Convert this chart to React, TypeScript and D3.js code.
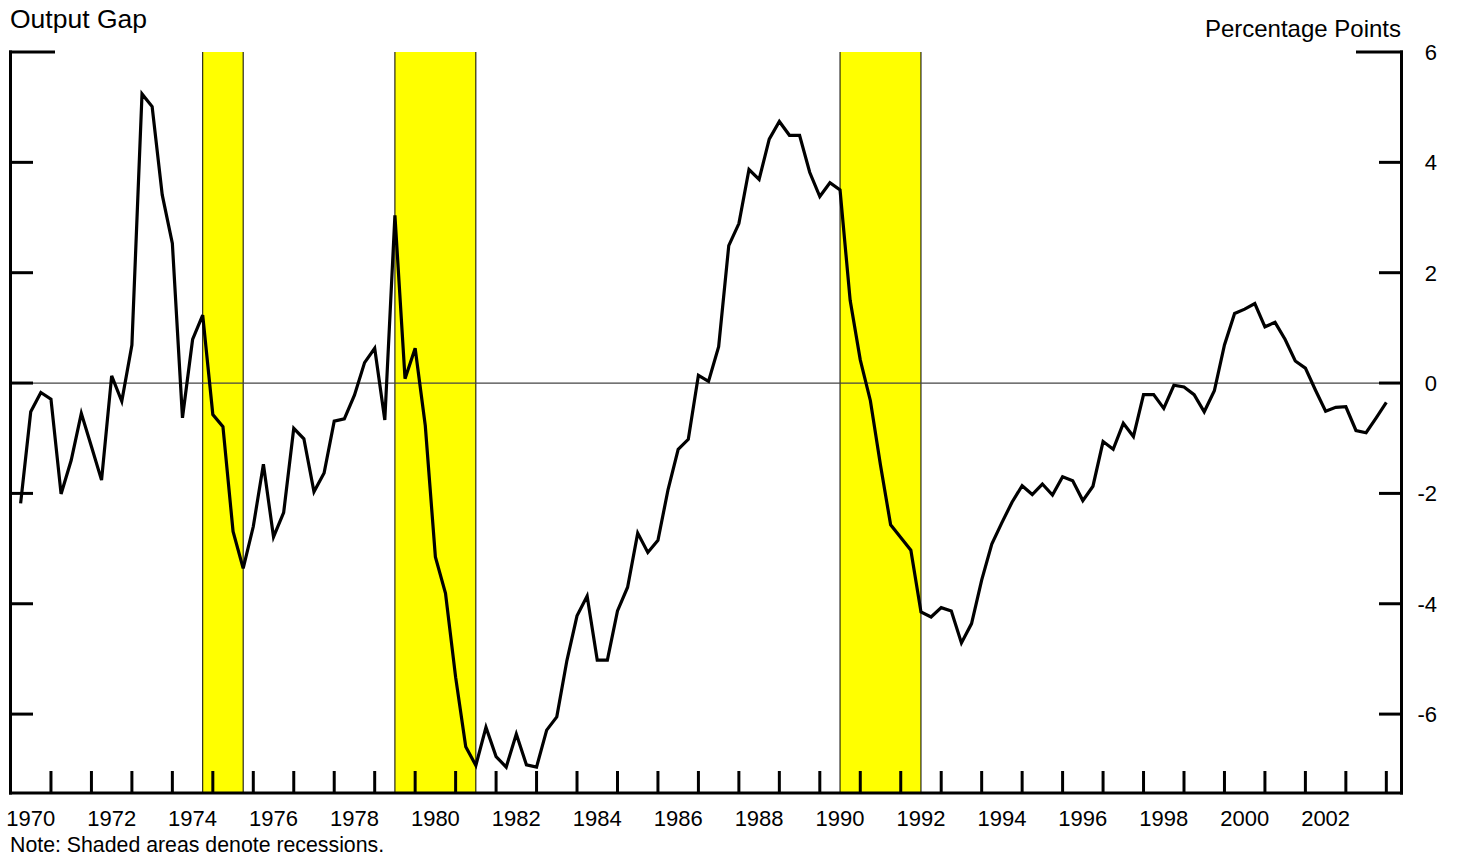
import React from "react";
import * as d3 from "d3";

const W = 1457;
const H = 859;

// Quarterly output gap, first value plotted at 1970.25 (quarter end), step 0.25 yr
const firstDate = 1970.25;
const outputGap: number[] = [
  -2.18, -0.52, -0.17, -0.29, -2.01, -1.40, -0.55, -1.15, -1.76, 0.13,
  -0.33, 0.69, 5.24, 5.01, 3.41, 2.53, -0.63, 0.79, 1.23, -0.57,
  -0.79, -2.69, -3.36, -2.60, -1.47, -2.79, -2.35, -0.82, -1.01, -1.97,
  -1.63, -0.69, -0.65, -0.22, 0.37, 0.63, -0.67, 3.04, 0.08, 0.63,
  -0.77, -3.15, -3.81, -5.33, -6.59, -6.93, -6.24, -6.77, -6.96, -6.36,
  -6.92, -6.96, -6.29, -6.05, -5.03, -4.22, -3.86, -5.02, -5.02, -4.13,
  -3.70, -2.72, -3.07, -2.85, -1.93, -1.20, -1.02, 0.14, 0.03, 0.66,
  2.49, 2.89, 3.87, 3.69, 4.42, 4.74, 4.49, 4.49, 3.82, 3.38,
  3.63, 3.50, 1.50, 0.42, -0.32, -1.49, -2.57, -2.80, -3.03, -4.15,
  -4.24, -4.07, -4.13, -4.71, -4.36, -3.57, -2.92, -2.53, -2.16, -1.86,
  -2.02, -1.83, -2.03, -1.70, -1.77, -2.13, -1.87, -1.06, -1.20, -0.73,
  -0.97, -0.21, -0.21, -0.46, -0.04, -0.07, -0.21, -0.52, -0.14, 0.69,
  1.26, 1.34, 1.44, 1.02, 1.10, 0.79, 0.40, 0.27, -0.13, -0.51,
  -0.44, -0.43, -0.86, -0.90, -0.63, -0.35,
];

const recessionStarts: number[] = [1974.75, 1979.5, 1990.5];
const recessionEnds: number[] = [1975.75, 1981.5, 1992.5];

const yTicks: number[] = [-6, -4, -2, 0, 2, 4, 6];
const yInnerTicks: number[] = [-6, -4, -2, 0, 2, 4];
const xLabelYears: number[] = d3.range(1970, 2003, 2);
const xTickYears: number[] = d3.range(1971, 2005, 1);

const FONT = "'Liberation Sans', Arial, Helvetica, sans-serif";

export default function App() {
  const left = 10.5;
  const right = 1401.5;
  const top = 52;
  const bottom = 793;

  const x = d3.scaleLinear().domain([1970, 2004.375]).range([left, right]);
  const y = d3.scaleLinear().domain([-7.43, 6]).range([bottom, top]);

  const pts: [number, number][] = outputGap.map((v, i) => [firstDate + i * 0.25, v]);
  const line = d3
    .line<[number, number]>()
    .x((d) => x(d[0]))
    .y((d) => y(d[1]));

  return (
    <svg
      width={W}
      height={H}
      viewBox={`0 0 ${W} ${H}`}
      style={{ position: "absolute", left: 0, top: 0, background: "#fff" }}
    >
      <rect x={0} y={0} width={W} height={H} fill="#fff" />
      {/* recession bands */}
      {recessionStarts.map((s, i) => (
        <g key={"r" + i}>
          <rect
            x={x(s)}
            y={top}
            width={x(recessionEnds[i]) - x(s)}
            height={bottom - top}
            fill="#ffff00"
          />
          <line x1={x(s)} x2={x(s)} y1={top} y2={bottom} stroke="#000" strokeWidth={1} />
          <line
            x1={x(recessionEnds[i])}
            x2={x(recessionEnds[i])}
            y1={top}
            y2={bottom}
            stroke="#000"
            strokeWidth={1}
          />
        </g>
      ))}
      {/* zero line */}
      <line x1={left} x2={right} y1={y(0)} y2={y(0)} stroke="#444" strokeWidth={1.2} />
      {/* data line */}
      <path
        d={line(pts) || ""}
        fill="none"
        stroke="#000"
        strokeWidth={3.2}
        strokeLinejoin="miter"
        strokeMiterlimit={4}
      />
      {/* axes frame */}
      <line x1={left} x2={left} y1={top - 1.5} y2={bottom + 1.5} stroke="#000" strokeWidth={3} />
      <line x1={right} x2={right} y1={top - 1.5} y2={bottom + 1.5} stroke="#000" strokeWidth={3} />
      <line x1={left - 1.5} x2={right + 1.5} y1={bottom} y2={bottom} stroke="#000" strokeWidth={3} />
      <line x1={left - 1.5} x2={55} y1={y(6)} y2={y(6)} stroke="#000" strokeWidth={3} />
      <line x1={1356} x2={right + 1.5} y1={y(6)} y2={y(6)} stroke="#000" strokeWidth={3} />
      {/* y ticks */}
      {yInnerTicks.map((t) => (
        <g key={"yt" + t}>
          <line x1={left} x2={33} y1={y(t)} y2={y(t)} stroke="#000" strokeWidth={3} />
          <line x1={1379} x2={right} y1={y(t)} y2={y(t)} stroke="#000" strokeWidth={3} />
        </g>
      ))}
      {yTicks.map((t) => (
        <text
          key={"yl" + t}
          x={1437}
          y={y(t)}
          dy="0.36em"
          textAnchor="end"
          fontFamily={FONT}
          fontSize={22}
          fill="#000"
        >
          {t}
        </text>
      ))}
      {/* x ticks */}
      {xTickYears.map((yr) => (
        <line
          key={"xt" + yr}
          x1={x(yr)}
          x2={x(yr)}
          y1={771}
          y2={bottom}
          stroke="#000"
          strokeWidth={3}
        />
      ))}
      {xLabelYears.map((yr) => (
        <text
          key={"xl" + yr}
          x={x(yr + 0.5)}
          y={826}
          textAnchor="middle"
          fontFamily={FONT}
          fontSize={22}
          fill="#000"
        >
          {yr}
        </text>
      ))}
      {/* titles */}
      <text x={10} y={28} fontFamily={FONT} fontSize={26.5} fill="#000">
        Output Gap
      </text>
      <text x={1401} y={37} textAnchor="end" fontFamily={FONT} fontSize={24} fill="#000">
        Percentage Points
      </text>
      <text x={10} y={852} fontFamily={FONT} fontSize={21.3} fill="#000">
        Note: Shaded areas denote recessions.
      </text>
    </svg>
  );
}
